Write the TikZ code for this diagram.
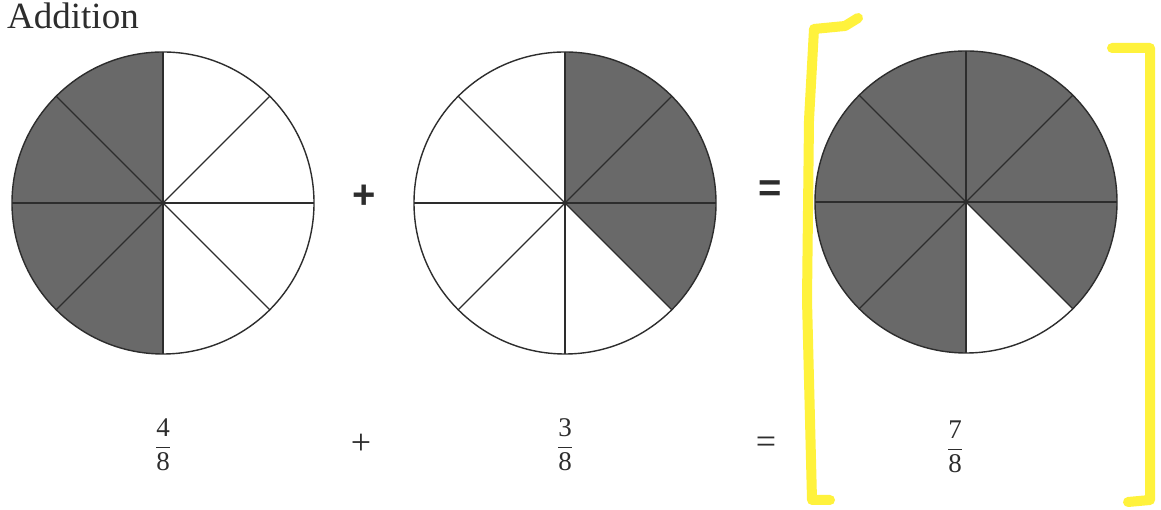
\documentclass[tikz,border=0pt]{standalone}
\usepackage{fontspec}
\setmainfont{Liberation Serif}
\newfontfamily\boldsans{Liberation Sans}
\definecolor{hlyellow}{RGB}{255,242,60}
\definecolor{inkgray}{RGB}{45,45,45}
\definecolor{pencil}{RGB}{105,105,105}
\begin{document}
\begin{tikzpicture}[x=1pt,y=1pt,
  rim/.style={draw=inkgray,line width=1.4pt},
  spoke/.style={draw=inkgray,line width=1.2pt},
  shadefill/.style={fill=pencil},
  hl/.style={draw=hlyellow,line width=10pt,line cap=round,line join=round},
  lbl/.style={inner sep=0pt,text=inkgray},
  frac/.style={lbl,font=\fontsize{27}{30}\selectfont},
  op/.style={lbl,font=\fontsize{36}{36}\selectfont},
  boldop/.style={lbl,font=\boldsans\bfseries\fontsize{40}{40}\selectfont}]
\useasboundingbox (0,0) rectangle (1161,510);
\fill[white] (0,0) rectangle (1161,510);
% highlighter brackets
\draw[hl] (858,492) -- (845,484) -- (814,481) -- (809,390) -- (807,210) -- (812,10) -- (830,10);
\draw[hl] (1112,462) -- (1150,462) -- (1150,10) -- (1128,8);
% circle 1 : 4/8
\coordinate (c1) at (163,307);
\fill[shadefill] (c1) -- ++(90:151) arc[start angle=90,end angle=270,radius=151] -- cycle;
\draw[rim] (c1) circle[radius=151];
\foreach \a in {0,45,...,315} \draw[spoke] (c1) -- ++(\a:151);
% circle 2 : 3/8
\coordinate (c2) at (565,307);
\fill[shadefill] (c2) -- ++(-45:151) arc[start angle=-45,end angle=90,radius=151] -- cycle;
\draw[rim] (c2) circle[radius=151];
\foreach \a in {0,45,...,315} \draw[spoke] (c2) -- ++(\a:151);
% circle 3 : 7/8
\coordinate (c3) at (966,308);
\fill[shadefill] (c3) -- ++(-45:151) arc[start angle=-45,end angle=270,radius=151] -- cycle;
\draw[rim] (c3) circle[radius=151];
\foreach \a in {0,45,...,315} \draw[spoke] (c3) -- ++(\a:151);
% texts
\node[lbl,anchor=base west,font=\fontsize{37}{40}\selectfont] (title) at (7,481) {Addition};
\node[boldop] (plusA) at (364,313) {+};
\node[boldop] (eqA) at (770,319) {=};
\node[frac] (f1) at (163,65) {$\displaystyle\frac{\mbox{4}}{\mbox{8}}$};
\node[op] (plusB) at (361,66) {+};
\node[frac] (f2) at (565,65) {$\displaystyle\frac{\mbox{3}}{\mbox{8}}$};
\node[op] (eqB) at (766,65) {=};
\node[frac] (f3) at (955,63) {$\displaystyle\frac{\mbox{7}}{\mbox{8}}$};
\end{tikzpicture}
\end{document}
